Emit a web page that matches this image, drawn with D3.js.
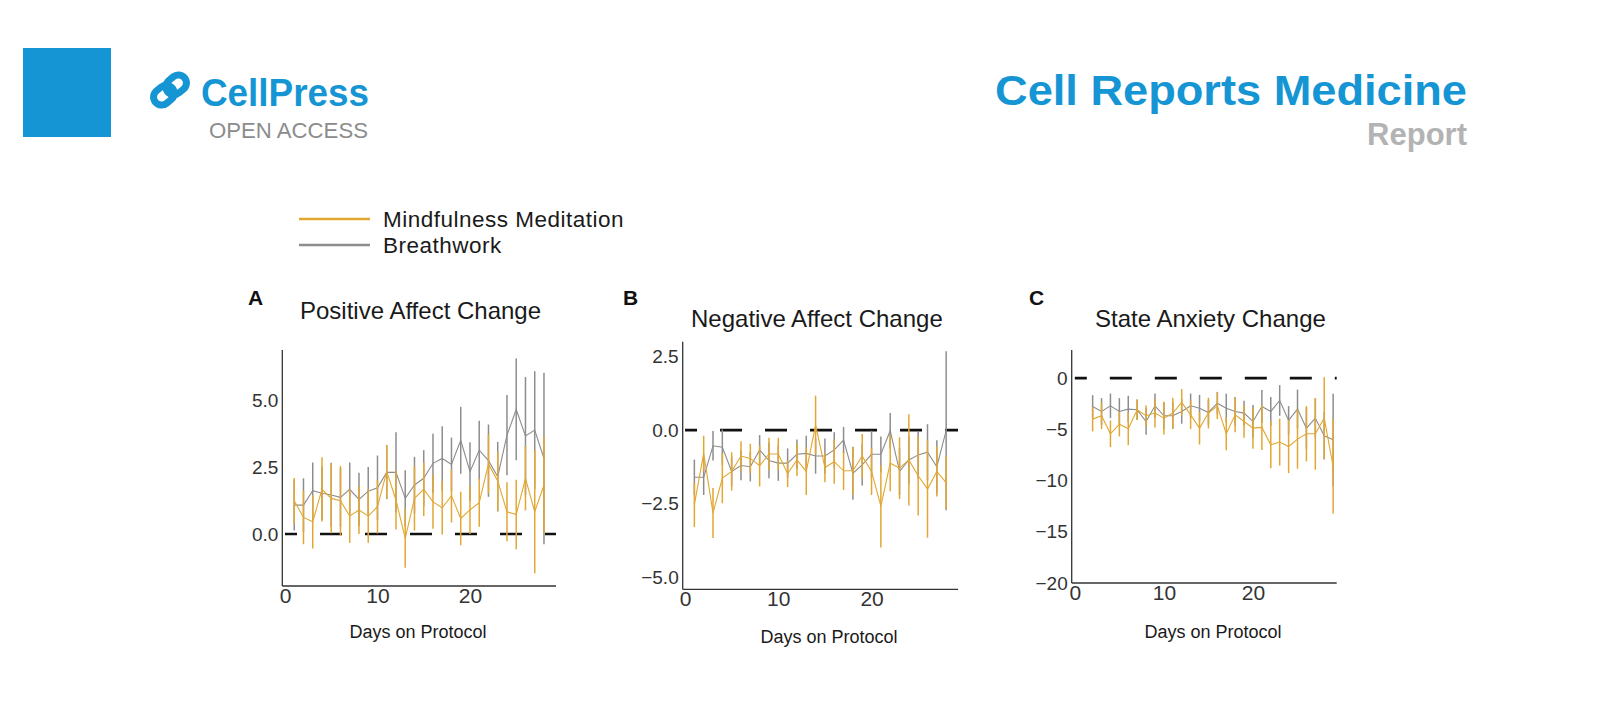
<!DOCTYPE html>
<html lang="en">
<head>
<meta charset="utf-8" />
<title>Daily affect and anxiety change</title>
<script src="https://cdn.jsdelivr.net/npm/d3@7"></script>
<style>
body { margin: 0; background: #fff; }
svg { font-family: "Liberation Sans", Arial, sans-serif; display: block; }
.tick text { fill: #333; }
</style>
</head>
<body>
<svg id="fig" width="1600" height="709"></svg>
<script>
// ---- data ----
var posDays = d3.range(1, 29);
var posMindful    = [1.24,0.62,0.46,1.67,1.33,1.24,0.67,0.90,0.67,1.02,2.33,1.27,-0.16,1.33,1.67,1.20,0.98,1.43,0.58,0.90,1.17,2.61,1.98,0.83,0.73,2.08,0.83,1.83];
var posMindfulErr = [0.85,1.0,1.0,1.2,1.3,1.3,1.0,0.9,1.0,1.0,1.0,1.1,1.1,1.2,1.0,1.0,1.0,1.0,1.0,0.9,0.9,1.1,1.1,1.1,1.3,1.2,2.3,1.8];
var posBreath      = [1.08,1.08,1.62,1.52,1.46,1.37,1.67,1.29,1.60,1.73,2.30,2.30,1.33,1.83,2.08,2.64,2.82,2.60,3.50,2.33,3.13,2.74,2.14,3.69,4.65,3.66,3.88,2.82];
var posBreathErr   = [0.95,1.0,1.05,1.0,1.2,1.1,1.0,1.0,0.9,1.2,1.0,1.5,1.05,1.05,1.05,1.1,1.2,1.0,1.25,1.1,1.1,1.35,1.3,1.5,1.9,2.2,2.2,3.2];

var negDays = d3.range(1, 29);
var negMindful    = [-2.53,-0.79,-2.81,-1.63,-1.4,-0.88,-0.96,-1.21,-0.81,-0.81,-1.48,-1.01,-1.4,0.17,-1.27,-1.07,-1.38,-1.38,-0.88,-1.4,-2.58,-1.12,-1.29,-1.01,-1.55,-2.0,-1.4,-1.78];
var negMindfulErr = [0.76,0.6,0.85,0.85,0.65,0.5,0.5,0.7,0.55,0.55,0.45,0.55,0.8,1.0,0.5,0.75,0.65,0.8,0.75,0.8,1.4,0.95,1.05,1.55,1.35,1.65,0.85,0.9];
var negBreath      = [-1.6,-1.6,-0.53,-0.58,-1.4,-1.2,-1.24,-0.67,-1.03,-1.12,-1.12,-0.82,-0.79,-0.88,-0.88,-0.67,-0.34,-1.46,-1.18,-0.82,-0.82,-0.02,-1.4,-1.01,-0.84,-0.75,-1.24,-0.02];
var negBreathErr   = [0.6,0.6,0.5,0.6,0.5,0.5,0.5,0.5,0.6,0.6,0.5,0.5,0.6,0.6,0.6,0.6,0.45,0.9,0.7,0.8,0.6,0.6,0.8,0.8,0.8,0.95,0.9,2.7];

var anxDays = d3.range(2, 30);
var anxMindful    = [-4.0,-3.67,-5.43,-4.49,-4.94,-3.09,-3.67,-3.41,-3.9,-3.41,-2.37,-3.58,-4.88,-3.41,-2.7,-5.43,-3.58,-4.23,-4.88,-4.81,-6.5,-6.24,-6.67,-5.95,-5.43,-5.43,-3.9,-8.62];
var anxMindfulErr = [1.2,1.3,1.3,1.2,1.6,1.0,1.0,1.4,1.6,1.5,1.3,1.4,1.6,1.5,1.3,1.6,1.7,1.6,2.0,2.2,2.3,2.3,2.6,2.9,2.7,3.5,4.0,4.6];
var anxBreath      = [-2.76,-3.25,-2.7,-3.25,-3.02,-3.09,-4.23,-2.7,-3.67,-3.67,-3.25,-2.7,-2.93,-3.35,-2.44,-2.93,-3.25,-3.41,-4.23,-2.76,-3.25,-2.18,-4.13,-3.02,-4.88,-3.9,-5.63,-6.02];
var anxBreathErr   = [1.1,1.3,1.2,1.3,1.3,1.0,1.3,1.2,1.3,1.3,1.2,1.2,1.3,1.2,1.1,1.4,1.4,1.2,1.6,1.6,1.4,1.5,1.4,1.9,2.0,1.9,2.3,4.5];

var xTicks = [0, 10, 20];
var seriesNames = ["Mindfulness Meditation", "Breathwork"];

var gold = "#e2a733", grey = "#8d8d8d", blue = "#1595d3";

var svg = d3.select("#fig");

// ---- journal header ----
svg.append("rect").attr("x", 23).attr("y", 48).attr("width", 88).attr("height", 89).attr("fill", blue);

var logo = svg.append("g").attr("transform", "translate(170,90) rotate(-40)");
logo.append("rect").attr("x", -19).attr("y", -8).attr("width", 22).attr("height", 16).attr("rx", 8)
    .attr("fill", "none").attr("stroke", blue).attr("stroke-width", 7);
logo.append("rect").attr("x", -3).attr("y", -8).attr("width", 22).attr("height", 16).attr("rx", 8)
    .attr("fill", "none").attr("stroke", blue).attr("stroke-width", 7);

svg.append("text").attr("x", 201).attr("y", 106).text("CellPress")
    .attr("font-size", 38).attr("font-weight", "bold").attr("fill", blue)
    .attr("textLength", 168).attr("lengthAdjust", "spacingAndGlyphs");
svg.append("text").attr("x", 209).attr("y", 138).text("OPEN ACCESS")
    .attr("font-size", 22).attr("fill", "#8c8c8c")
    .attr("textLength", 159).attr("lengthAdjust", "spacingAndGlyphs");

svg.append("text").attr("x", 995).attr("y", 105).text("Cell Reports Medicine")
    .attr("font-size", 42).attr("font-weight", "bold").attr("fill", blue)
    .attr("textLength", 472).attr("lengthAdjust", "spacingAndGlyphs");
svg.append("text").attr("x", 1467).attr("y", 145).attr("text-anchor", "end").text("Report")
    .attr("font-size", 31).attr("font-weight", "bold").attr("fill", "#b3b3b3");

// ---- legend ----
var legend = svg.append("g").attr("transform", "translate(299,219)");
legend.selectAll("g").data(seriesNames).enter().append("g")
    .attr("transform", function(d, i) { return "translate(0," + i * 26 + ")"; })
    .each(function(d, i) {
      var g = d3.select(this);
      g.append("line").attr("x1", 0).attr("x2", 71).attr("stroke", i ? grey : gold).attr("stroke-width", 2.6);
      g.append("text").attr("x", 84).attr("y", 7.5).text(d)
          .attr("font-size", 22.5).attr("letter-spacing", 0.5).attr("fill", "#1a1a1a");
    });

// ---- panels ----
var panels = [
  { letter: "A", title: "Positive Affect Change", days: posDays,
    mm: posMindful, mmErr: posMindfulErr, bw: posBreath, bwErr: posBreathErr,
    left: 282.3, right: 556, top: 350, bottom: 586, xDom: [-0.29, 29.3], yDom: [-1.94, 6.87],
    yTicks: [0, 2.5, 5], fmt: d3.format(".1f"),
    letterPos: [248, 305], titlePos: [300, 319], labelPos: [418, 638] },
  { letter: "B", title: "Negative Affect Change", days: negDays,
    mm: negMindful, mmErr: negMindfulErr, bw: negBreath, bwErr: negBreathErr,
    left: 682.7, right: 958, top: 341.7, bottom: 589.3, xDom: [-0.25, 29.27], yDom: [-5.4, 3.0],
    yTicks: [-5, -2.5, 0, 2.5], fmt: d3.format(".1f"),
    letterPos: [623, 305], titlePos: [691, 327], labelPos: [829, 643] },
  { letter: "C", title: "State Anxiety Change", days: anxDays,
    mm: anxMindful, mmErr: anxMindfulErr, bw: anxBreath, bwErr: anxBreathErr,
    left: 1071.7, right: 1336.7, top: 350, bottom: 583, xDom: [-0.35, 29.4], yDom: [-20, 2.75],
    yTicks: [-20, -15, -10, -5, 0], fmt: d3.format("d"),
    letterPos: [1029, 305], titlePos: [1095, 327], labelPos: [1213, 638] }
];

panels.forEach(function(p) {
  var x = d3.scaleLinear().domain(p.xDom).range([p.left, p.right]);
  var y = d3.scaleLinear().domain(p.yDom).range([p.bottom, p.top]);

  svg.append("text").attr("x", p.letterPos[0]).attr("y", p.letterPos[1]).text(p.letter)
      .attr("font-size", 21).attr("font-weight", "bold").attr("fill", "#111");
  svg.append("text").attr("x", p.titlePos[0]).attr("y", p.titlePos[1]).text(p.title)
      .attr("font-size", 24).attr("fill", "#1a1a1a");
  svg.append("text").attr("x", p.labelPos[0]).attr("y", p.labelPos[1]).attr("text-anchor", "middle")
      .text("Days on Protocol").attr("font-size", 18).attr("fill", "#1a1a1a");

  // zero reference
  svg.append("line")
      .attr("x1", x(0)).attr("x2", p.right).attr("y1", y(0)).attr("y2", y(0))
      .attr("stroke", "#111").attr("stroke-width", 2.6)
      .attr("stroke-dasharray", "22,23").attr("stroke-dashoffset", 10);

  var series = [
    { mean: p.bw, err: p.bwErr, color: grey },
    { mean: p.mm, err: p.mmErr, color: gold }
  ];

  series.forEach(function(s) {
    var pts = p.days.map(function(d, i) { return { day: d, v: s.mean[i], e: s.err[i] }; });
    svg.append("g").selectAll("line").data(pts).enter().append("line")
        .attr("x1", function(d) { return x(d.day); })
        .attr("x2", function(d) { return x(d.day); })
        .attr("y1", function(d) { return y(d.v - d.e); })
        .attr("y2", function(d) { return y(d.v + d.e); })
        .attr("stroke", s.color).attr("stroke-width", 1.5);
    svg.append("path").datum(pts)
        .attr("fill", "none").attr("stroke", s.color).attr("stroke-width", 1.1)
        .attr("d", d3.line().x(function(d) { return x(d.day); }).y(function(d) { return y(d.v); }));
  });

  var xAxis = svg.append("g").attr("transform", "translate(0," + p.bottom + ")")
      .call(d3.axisBottom(x).tickValues(xTicks).tickSize(0).tickPadding(2).tickFormat(d3.format("d")));
  xAxis.select(".domain").attr("d", "M" + p.left + ",0H" + p.right).attr("stroke", "#333").attr("stroke-width", 1.3);
  xAxis.selectAll("text").attr("font-size", 21).attr("font-family", null);

  var yAxis = svg.append("g").attr("transform", "translate(" + p.left + ",0)")
      .call(d3.axisLeft(y).tickValues(p.yTicks).tickSize(0).tickPadding(4).tickFormat(p.fmt));
  yAxis.select(".domain").attr("d", "M0," + p.top + "V" + p.bottom).attr("stroke", "#333").attr("stroke-width", 1.3);
  yAxis.selectAll("text").attr("font-size", 19).attr("font-family", null);
});
</script>
</body>
</html>
